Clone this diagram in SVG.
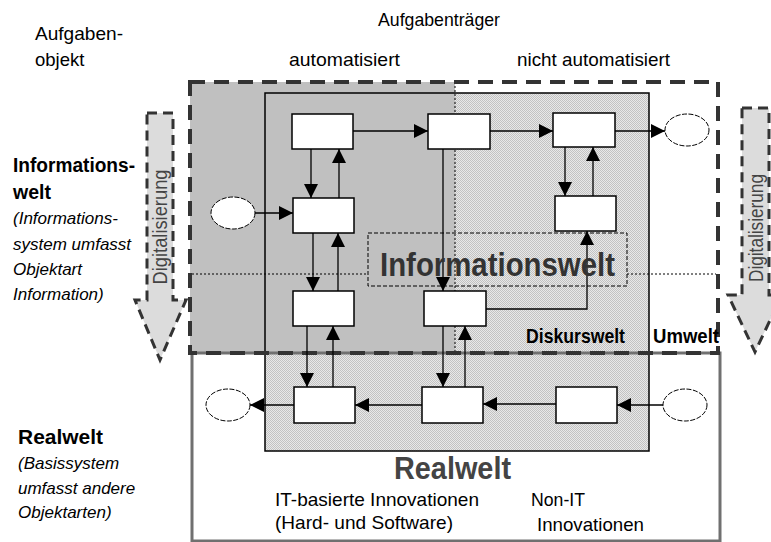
<svg xmlns="http://www.w3.org/2000/svg" width="771" height="542" viewBox="0 0 771 542">
<defs>
<pattern id="dots" width="2" height="2" patternUnits="userSpaceOnUse"><rect width="2" height="2" fill="#e8e8e8"/><rect width="1" height="1" fill="#c2c2c2"/><rect x="1" y="1" width="1" height="1" fill="#c2c2c2"/></pattern>
<marker id="arr" viewBox="0 0 14 14" refX="14" refY="7" markerWidth="14" markerHeight="14" markerUnits="userSpaceOnUse" orient="auto"><path d="M0,0 L14,7 L0,14 z" fill="#000"/></marker>
<style>
text{font-family:"Liberation Sans",Arial,sans-serif;fill:#000}
.lbl{font-size:18.5px}
.b{font-weight:bold;font-size:19.5px}
.it{font-style:italic;font-size:17px}
.box{fill:#fff;stroke:#000;stroke-width:1.5}
.ell{fill:#fff;stroke:#000;stroke-width:1;stroke-dasharray:5 1.5}
.dig{fill:#dcdcdc;stroke:#333;stroke-width:3;stroke-dasharray:10 6}
.digt{font-size:20px;fill:#444}
.dot{stroke:#000;stroke-width:1;stroke-dasharray:2 2;fill:none}
</style>
</defs>
<rect width="771" height="542" fill="#fff"/>
<g id="regions">
<rect x="265" y="93" width="384" height="358" fill="url(#dots)"/>
<rect x="190" y="82" width="265" height="271" fill="#c0c0c0"/>
<line x1="455" y1="82" x2="455" y2="353" class="dot"/>
<path d="M192,274 H368 M627,274 H716" class="dot"/>
<rect x="192" y="353" width="528" height="188" fill="none" stroke="#707070" stroke-width="3"/>
<rect x="265" y="93" width="384" height="358" fill="none" stroke="#000" stroke-width="1.5"/>
<rect x="190" y="82" width="528" height="271" fill="none" stroke="#333" stroke-width="4" stroke-dasharray="15 9"/>
<rect x="368" y="233" width="259" height="53" fill="none" stroke="#000" stroke-width="1" stroke-dasharray="4 2"/>
</g>
<g id="digit-left"><polygon class="dig" points="147,113 173,113 173,300 186,300 160,360 135,300 147,300"/><text class="digt" transform="translate(167,227) rotate(-90)" text-anchor="middle" textLength="115" lengthAdjust="spacingAndGlyphs">Digitalisierung</text></g>
<g id="digit-right"><polygon class="dig" points="742,108 769,108 769,295 782,295 755,352 728,295 742,295"/><text class="digt" transform="translate(763,228) rotate(-90)" text-anchor="middle" textLength="108" lengthAdjust="spacingAndGlyphs">Digitalisierung</text></g>
<g id="connectors" stroke="#000" stroke-width="1.3" fill="none" marker-end="url(#arr)">
<path d="M353,131 H428"/>
<path d="M490,131 H553"/>
<path d="M615,131 H665"/>
<path d="M255,213 H293"/>
<path d="M311,149 V198"/>
<path d="M339,198 V149"/>
<path d="M313,233 V291"/>
<path d="M338,291 V233"/>
<path d="M307,326 V387"/>
<path d="M333,387 V326"/>
<path d="M443,149 V291"/>
<path d="M443,326 V387"/>
<path d="M465,387 V326"/>
<path d="M565,147 V196"/>
<path d="M593,196 V147"/>
<path d="M486,309 H587 V231"/>
<path d="M556,404 H483"/>
<path d="M422,405 H355"/>
<path d="M294,405 H250"/>
<path d="M663,405 H617"/>
</g>
<g id="nodeA"><rect class="box" x="292" y="114" width="61" height="35"/></g>
<g id="nodeB"><rect class="box" x="293" y="198" width="61" height="35"/></g>
<g id="nodeC"><rect class="box" x="428" y="114" width="62" height="35"/></g>
<g id="nodeD"><rect class="box" x="553" y="113" width="62" height="34"/></g>
<g id="nodeE"><rect class="box" x="555" y="196" width="61" height="35"/></g>
<g id="nodeF"><rect class="box" x="293" y="291" width="61" height="35"/></g>
<g id="nodeG"><rect class="box" x="424" y="291" width="62" height="35"/></g>
<g id="nodeH"><rect class="box" x="294" y="387" width="61" height="36"/></g>
<g id="nodeI"><rect class="box" x="422" y="387" width="61" height="36"/></g>
<g id="nodeJ"><rect class="box" x="556" y="387" width="61" height="36"/></g>
<g id="ell1"><ellipse class="ell" cx="233" cy="213" rx="22" ry="16"/></g>
<g id="ell2"><ellipse class="ell" cx="687" cy="130" rx="22" ry="16"/></g>
<g id="ell3"><ellipse class="ell" cx="228" cy="405" rx="22" ry="16"/></g>
<g id="ell4"><ellipse class="ell" cx="685" cy="405" rx="22" ry="16"/></g>
<g id="labels">
<text class="lbl" x="378" y="26" textLength="122" lengthAdjust="spacingAndGlyphs">Aufgabenträger</text>
<text class="lbl" x="35" y="40" textLength="88" lengthAdjust="spacingAndGlyphs">Aufgaben-</text>
<text class="lbl" x="35" y="66">objekt</text>
<text class="lbl" x="289" y="66" textLength="111" lengthAdjust="spacingAndGlyphs">automatisiert</text>
<text class="lbl" x="517" y="66" textLength="153" lengthAdjust="spacingAndGlyphs">nicht automatisiert</text>
<text class="b" x="13" y="172" textLength="122" lengthAdjust="spacingAndGlyphs">Informations-</text>
<text class="b" x="13" y="199">welt</text>
<text class="it" x="13" y="224">(Informations-</text>
<text class="it" x="13" y="250">system umfasst</text>
<text class="it" x="13" y="275">Objektart</text>
<text class="it" x="13" y="300">Information)</text>
<text class="b" x="18" y="444" textLength="85" lengthAdjust="spacingAndGlyphs">Realwelt</text>
<text class="it" x="18" y="469">(Basissystem</text>
<text class="it" x="18" y="494">umfasst andere</text>
<text class="it" x="18" y="518">Objektarten)</text>
<text x="380" y="276" font-size="34" font-weight="bold" style="fill:#333" textLength="235" lengthAdjust="spacingAndGlyphs">Informationswelt</text>
<text x="526" y="343" font-size="21" font-weight="bold" textLength="99" lengthAdjust="spacingAndGlyphs">Diskurswelt</text>
<text x="653" y="343" font-size="21" font-weight="bold" textLength="66" lengthAdjust="spacingAndGlyphs">Umwelt</text>
<text x="394" y="479" font-size="31" font-weight="bold" style="fill:#444" textLength="117" lengthAdjust="spacingAndGlyphs">Realwelt</text>
<text x="275" y="506" font-size="19" textLength="204" lengthAdjust="spacingAndGlyphs">IT-basierte Innovationen</text>
<text x="275" y="529" font-size="19" textLength="178" lengthAdjust="spacingAndGlyphs">(Hard- und Software)</text>
<text x="531" y="506" font-size="19" textLength="54" lengthAdjust="spacingAndGlyphs">Non-IT</text>
<text x="537" y="531" font-size="19" textLength="107" lengthAdjust="spacingAndGlyphs">Innovationen</text>
</g>
</svg>
